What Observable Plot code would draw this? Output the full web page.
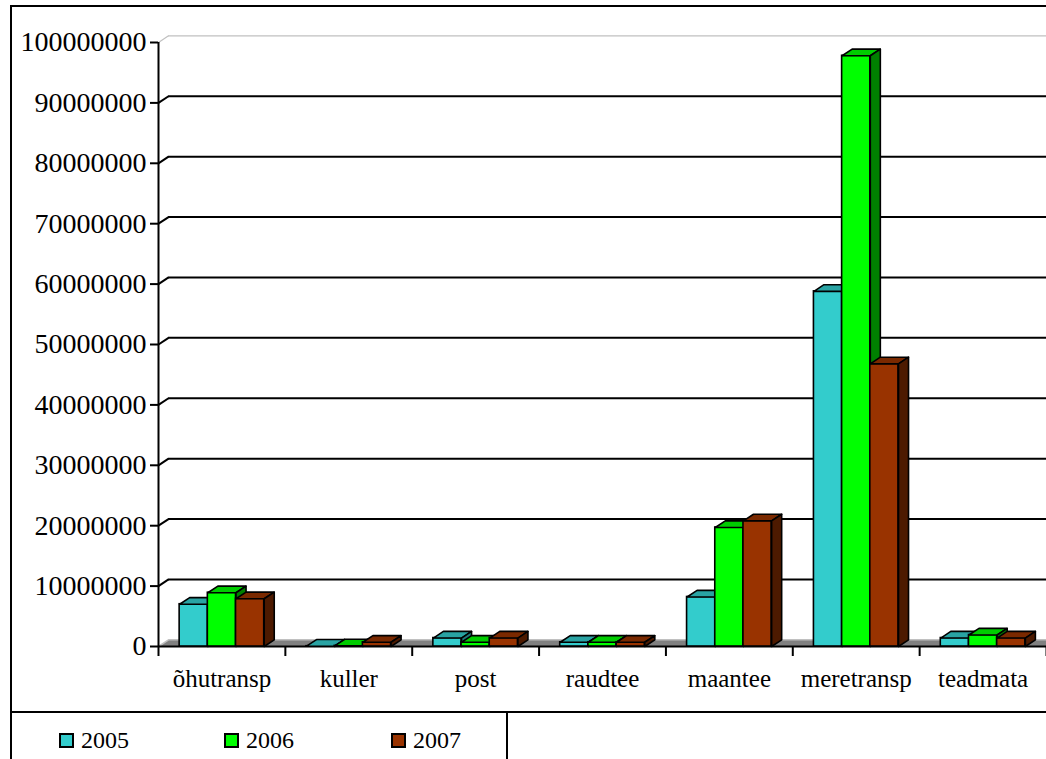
<!DOCTYPE html>
<html><head><meta charset="utf-8">
<script src="https://cdn.jsdelivr.net/npm/d3@7"></script>
<script src="https://cdn.jsdelivr.net/npm/@observablehq/plot@0.6"></script>
<style>
html,body{margin:0;padding:0;background:#fff;}
#wrap{position:relative;width:1046px;height:759px;overflow:hidden;font-family:"Liberation Serif","Times New Roman",serif;}
#chart{position:absolute;left:0;top:0;}
#frame{position:absolute;left:10px;top:5px;width:1100px;height:704px;border:2px solid #000;pointer-events:none;}
#legend{position:absolute;left:10px;top:711px;width:494px;height:100px;border:2px solid #000;background:#fff;}
.item{position:absolute;top:15px;display:flex;align-items:center;font-size:24px;line-height:1;color:#000;}
.sw{width:11px;height:11px;border:2px solid #000;margin-right:7px;}
</style></head>
<body>
<div id="wrap"><div id="chart"></div><div id="frame"></div><div id="legend"></div></div>
<script>
const categories = ["õhutransp", "kuller", "post", "raudtee", "maantee", "meretransp", "teadmata"];
const years = ["2005", "2006", "2007"];
const values2005 = [7000000, 50000, 1400000, 700000, 8200000, 58800000, 1400000];
const values2006 = [8900000, 100000, 700000, 700000, 19700000, 97800000, 1900000];
const values2007 = [7900000, 700000, 1400000, 700000, 20800000, 46800000, 1400000];
const yTicks = [0, 10000000, 20000000, 30000000, 40000000, 50000000, 60000000, 70000000, 80000000, 90000000, 100000000];
const frontColors = ["#33CCCC", "#00FF00", "#993300"];
const topColors = ["#29A3A3", "#00CC00", "#7A2900"];
const sideColors = ["#1F7A7A", "#008000", "#4D1A00"];

const series = [values2005, values2006, values2007];
const DX = 0.079;      // depth offset in category units
const DY = 1100000;    // depth offset in value units
const GROUP_START = 1/6, BAR_W = 2/9;

function bars(j) {
  return categories.map((c, i) => {
    const x1 = i + GROUP_START + j * BAR_W;
    return {cat: c, year: years[j], i, x1, x2: x1 + BAR_W, v: series[j][i]};
  });
}
function topPoly(j) {
  return bars(j).flatMap(b => [
    {id: b.i, x: b.x1, y: b.v}, {id: b.i, x: b.x2, y: b.v},
    {id: b.i, x: b.x2 + DX, y: b.v + DY}, {id: b.i, x: b.x1 + DX, y: b.v + DY},
    {id: b.i, x: b.x1, y: b.v}
  ]);
}
function sidePoly(j) {
  return bars(j).flatMap(b => [
    {id: b.i, x: b.x2, y: 0}, {id: b.i, x: b.x2, y: b.v},
    {id: b.i, x: b.x2 + DX, y: b.v + DY}, {id: b.i, x: b.x2 + DX, y: DY},
    {id: b.i, x: b.x2, y: 0}
  ]);
}
const n = categories.length;
const floor = [{x: 0, y: 0}, {x: n, y: 0}, {x: n + DX, y: DY}, {x: DX, y: DY}, {x: 0, y: 0}];
const floorBack = [{x: 0, y: 0}, {x: DX, y: DY}, {x: n + DX, y: DY}];

const barMarks = [];
for (let j = 0; j < years.length; j++) {
  barMarks.push(
    Plot.rect(bars(j), {x1: "x1", x2: "x2", y1: 0, y2: "v", fill: frontColors[j], stroke: "#000", strokeWidth: 1.6}),
    Plot.line(topPoly(j), {x: "x", y: "y", z: "id", fill: topColors[j], stroke: "#000", strokeWidth: 1.6, strokeLinejoin: "round"}),
    Plot.line(sidePoly(j), {x: "x", y: "y", z: "id", fill: sideColors[j], stroke: "#000", strokeWidth: 1.6, strokeLinejoin: "round"})
  );
}

const gridTicks = yTicks.filter(t => t > 0);
const chart = Plot.plot({
  width: 1046,
  height: 713,
  marginLeft: 158,
  marginRight: 0,
  marginTop: 42,
  marginBottom: 67,
  style: {fontFamily: "'Liberation Serif','Times New Roman',serif", background: "transparent", color: "#000"},
  x: {type: "linear", domain: [0, n]},
  y: {domain: [0, 100000000]},
  marks: [
    // back wall gridlines
    Plot.ruleY(gridTicks, {y: d => d + DY, x1: DX, x2: n + DX, stroke: d => d === 100000000 ? "#c0c0c0" : "#000", strokeWidth: d => d === 100000000 ? 1.2 : 2}),
    Plot.link(gridTicks, {x1: 0, y1: d => d, x2: DX, y2: d => d + DY, stroke: d => d === 100000000 ? "#c0c0c0" : "#000", strokeWidth: d => d === 100000000 ? 1.2 : 2}),
    // floor
    Plot.line(floor, {x: "x", y: "y", fill: "#808080", stroke: "none"}),
    Plot.line(floorBack, {x: "x", y: "y", stroke: "#c0c0c0", strokeWidth: 1.5}),
    // axes
    Plot.ruleX([0], {y1: 0, y2: 100000000, stroke: "#000", strokeWidth: 2}),
    Plot.ruleY([0], {x1: 0, x2: n, stroke: "#000", strokeWidth: 2}),
    Plot.axisY({ticks: yTicks, tickSize: 8, tickPadding: 4, fontSize: 28, strokeWidth: 2, tickFormat: d3.format("d"), label: null}),
    Plot.axisX({ticks: d3.range(n + 1), tickSize: 10, strokeWidth: 2, tickFormat: () => "", label: null}),
    Plot.axisX({ticks: d3.range(n).map(i => i + 0.5), tickSize: 0, tickPadding: 23, fontSize: 25, tickFormat: d => categories[Math.floor(d)], label: null}),
    ...barMarks
  ]
});
document.getElementById("chart").appendChild(chart);

const legend = document.getElementById("legend");
const legendLefts = [47, 212, 379];
years.forEach((y, j) => {
  const it = document.createElement("div");
  it.className = "item";
  it.style.left = legendLefts[j] + "px";
  const sw = document.createElement("div");
  sw.className = "sw";
  sw.style.background = frontColors[j];
  const tx = document.createElement("span");
  tx.textContent = y;
  it.appendChild(sw); it.appendChild(tx);
  legend.appendChild(it);
});
</script>
</body></html>
